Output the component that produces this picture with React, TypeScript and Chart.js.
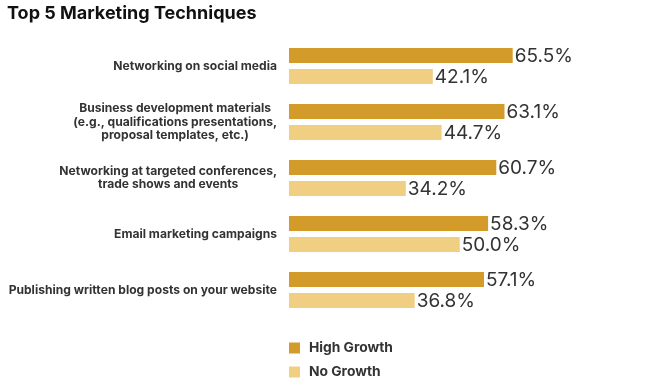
import React, { useEffect, useRef } from "react";
import { Chart, registerables } from "chart.js";
Chart.register(...registerables);

const titleText = "Top 5 Marketing Techniques";
const categories: string[][] = [
  ["Networking on social media"],
  ["Business development materials", "(e.g., qualifications presentations,", "proposal templates, etc.)"],
  ["Networking at targeted conferences,", "trade shows and events"],
  ["Email marketing campaigns"],
  ["Publishing written blog posts on your website"],
];
const seriesNames = ["High Growth", "No Growth"];
const highGrowth = [65.5, 63.1, 60.7, 58.3, 57.1];
const noGrowth = [42.1, 44.7, 34.2, 50.0, 36.8];
const seriesColors = ["#D39B2A", "#F0CE82"];

const LABEL_FONT = "bold 12.1px Inter";
const VALUE_FONT = "400 19px Inter";
const LEGEND_FONT = "bold 13.8px Inter";
const TEXT_COLOR = "#333333";

const categoryLabelPlugin = {
  id: "categoryLabels",
  afterDraw(chart: any) {
    const ctx = chart.ctx;
    const yScale = chart.scales.y;
    const right = chart.chartArea.left - 12;
    const lineH = 13.3;
    ctx.save();
    ctx.font = LABEL_FONT;
    ctx.fillStyle = TEXT_COLOR;
    ctx.textBaseline = "middle";
    ctx.textAlign = "center";
    categories.forEach((lines, i) => {
      const yc = yScale.getPixelForValue(i);
      const maxW = Math.max(...lines.map((l) => ctx.measureText(l).width));
      const cx = right - maxW / 2;
      const y0 = yc - ((lines.length - 1) * lineH) / 2;
      lines.forEach((l, j) => ctx.fillText(l, cx, y0 + j * lineH));
    });
    ctx.restore();
  },
};

const valueLabelPlugin = {
  id: "valueLabels",
  afterDatasetsDraw(chart: any) {
    const ctx = chart.ctx;
    ctx.save();
    ctx.font = VALUE_FONT;
    ctx.fillStyle = TEXT_COLOR;
    ctx.textBaseline = "middle";
    ctx.textAlign = "left";
    chart.data.datasets.forEach((ds: any, di: number) => {
      const meta = chart.getDatasetMeta(di);
      meta.data.forEach((bar: any, i: number) => {
        ctx.fillText(ds.data[i].toFixed(1) + "%", bar.x + 2, bar.y + 1);
      });
    });
    ctx.restore();
  },
};

const legendPlugin = {
  id: "stackLegend",
  afterDraw(chart: any) {
    const ctx = chart.ctx;
    const left = chart.chartArea.left;
    const top = chart.chartArea.bottom;
    ctx.save();
    ctx.font = LEGEND_FONT;
    ctx.textBaseline = "middle";
    ctx.textAlign = "left";
    seriesNames.forEach((name, i) => {
      const y = top + 30 + i * 24;
      ctx.fillStyle = seriesColors[i];
      ctx.fillRect(left, y - 5.5, 11, 11);
      ctx.fillStyle = TEXT_COLOR;
      ctx.fillText(name, left + 20, y);
    });
    ctx.restore();
  },
};

export default function App() {
  const ref = useRef<HTMLCanvasElement | null>(null);
  useEffect(() => {
    if (!ref.current) return;
    const chart = new Chart(ref.current, {
      type: "bar",
      data: {
        labels: categories.map((c) => c.join(" ")),
        datasets: [
          { label: seriesNames[0], data: highGrowth, backgroundColor: seriesColors[0], barPercentage: 0.714, categoryPercentage: 0.75 },
          { label: seriesNames[1], data: noGrowth, backgroundColor: seriesColors[1], barPercentage: 0.714, categoryPercentage: 0.75 },
        ],
      },
      options: {
        indexAxis: "y",
        responsive: false,
        animation: false,
        layout: { padding: { left: 7, right: 31.5, top: 0, bottom: 73 } },
        plugins: {
          legend: { display: false },
          tooltip: { enabled: false },
          title: {
            display: true,
            text: titleText,
            align: "start",
            color: "#111111",
            font: { family: "Inter", size: 18, weight: "bold" },
            padding: { top: 3, bottom: 13.4 },
          },
        },
        scales: {
          x: { display: false, min: 0, max: 100 },
          y: {
            grid: { display: false, drawTicks: false },
            border: { display: false },
            ticks: { display: false },
            afterFit: (s: any) => {
              s.width = 282;
            },
          },
        },
      },
      plugins: [categoryLabelPlugin, valueLabelPlugin, legendPlugin],
    } as any);
    return () => chart.destroy();
  }, []);
  return (
    <div style={{ position: "absolute", left: 0, top: 0, width: 662, height: 391 }}>
      <canvas ref={ref} width={662} height={391} style={{ display: "block" }} />
    </div>
  );
}
